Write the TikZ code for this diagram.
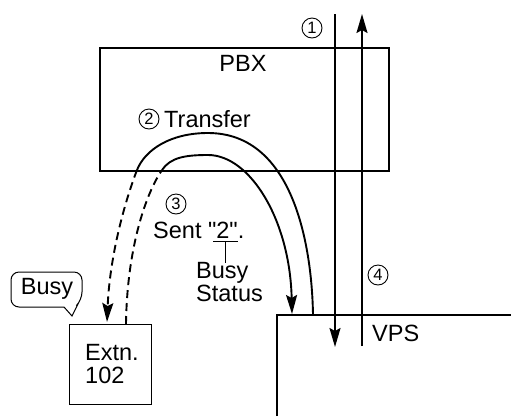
\documentclass[tikz,border=0pt]{standalone}
\usepackage{fontspec}
\setmainfont{Liberation Sans}[Ligatures=TeXOff]
\usetikzlibrary{arrows.meta}
\tikzset{
  thick line/.style={line width=1.9pt},
  thin box/.style={draw, line width=1.2pt},
  tip/.style={-{Stealth[length=19pt,width=11pt,inset=3pt]}},
  dashline/.style={dash pattern=on 8pt off 5pt},
  lbl/.style={inner sep=0pt, font=\fontsize{23.5}{23}\selectfont},
  circ/.style={circle, draw, line width=0.9pt, inner sep=0pt, minimum size=20pt, font=\fontsize{16.5}{16.5}\selectfont},
}
\begin{document}
\begin{tikzpicture}[x=1pt,y=-1pt]
\useasboundingbox (0,0) rectangle (511,416);
% PBX box
\node[draw, thick line, minimum width=289pt, minimum height=123pt, anchor=north west, inner sep=0pt] (pbx) at (99,47) {};
\node[lbl] (pbxl) at (243,63) {PBX};
% VPS box (open to right / bottom)
\coordinate (vpsbl) at (277,416);
\coordinate (vpstl) at (277,315);
\coordinate (vpstr) at (511,315);
\draw[line width=1.2pt] (vpsbl) -- (vpstl) -- (vpstr);
\node[lbl, anchor=west] (vpsl) at (372,333) {VPS};
% Extn box
\node[thin box, minimum width=82pt, minimum height=80pt, anchor=north west, inner sep=0pt] (ext) at (69,324) {};
\node[lbl, align=left, anchor=west] (extl) at (85,364) {Extn.\\102};
% vertical arrows
\coordinate (d1) at (335,14);
\coordinate (d2) at (335,347);
\coordinate (u1) at (362,346);
\coordinate (u2) at (362,14);
\draw[thick line, tip] (d1) -- (d2);
\draw[thick line, tip] (u1) -- (u2);
\node[circ] (c1) at (312,28) {1};
\node[circ] (c4) at (378,275) {4};
% outer arc: VPS -> Extn
\coordinate (o1) at (313,315);
\coordinate (opk) at (208,133);
\coordinate (om) at (137,170);
\coordinate (oe) at (107,322);
\draw[thick line] (o1) .. controls (312,250) and (295,133) .. (opk)
  .. controls (170,133) and (145,150) .. (om);
\draw[thick line, dashline, tip] (om) .. controls (128,193) and (110,250) .. (oe);
% inner arc: Extn -> VPS
\coordinate (i1) at (126,324);
\coordinate (im) at (162,170);
\coordinate (ipk) at (208,155);
\coordinate (ie) at (292,314);
\draw[thick line, dashline] (i1) .. controls (127,250) and (145,195) .. (im);
\draw[thick line, tip] (im) .. controls (170.5,157.5) and (185,155) .. (ipk)
  .. controls (250,155) and (290,220) .. (ie);
% labels
\node[circ] (c2) at (149,119) {2};
\node[lbl, anchor=west] (tr) at (164,119) {Transfer};
\node[circ] (c3) at (176,204) {3};
\node[lbl, anchor=west] (sent) at (153,230) {Sent "2".};
\coordinate (ul1) at (213,241);
\coordinate (ul2) at (238,241);
\coordinate (tk1) at (225,241);
\coordinate (tk2) at (225,263);
\draw[line width=1pt] (ul1) -- (ul2);
\draw[line width=1pt] (tk1) -- (tk2);
\node[lbl, align=left, anchor=north west] (bs) at (196,262) {Busy\\Status};
% Busy callout
\draw[line width=1pt, rounded corners=8pt] (62,307) -- (11,307) -- (11,272) -- (82,272) -- (82,300) [sharp corners] -- (78,304) -- (72,316) -- (64,307) -- (62,307);
\node[lbl] (busy) at (47,289) {Busy};
\end{tikzpicture}
\end{document}
